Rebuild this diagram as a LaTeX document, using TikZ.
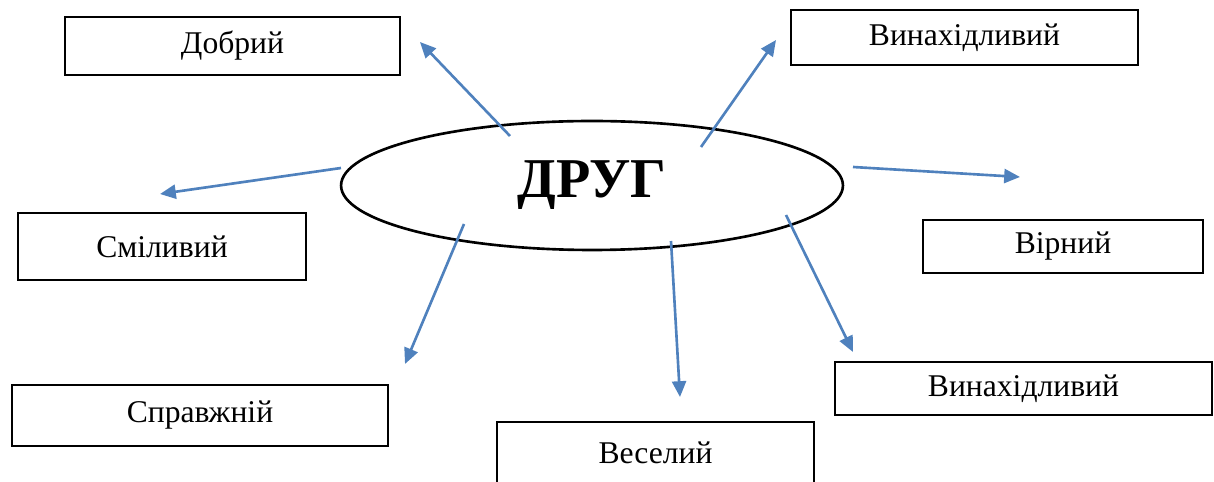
\documentclass[tikz,border=0pt]{standalone}
\usepackage{fontspec}
\setmainfont{Liberation Serif}
\usetikzlibrary{arrows.meta,shapes.geometric}

\definecolor{arrowblue}{RGB}{79,129,189}

\begin{document}
\begin{tikzpicture}[x=0.02cm,y=-0.02cm,
	box/.style={draw,line width=1.5pt,inner sep=0pt,font=\fontsize{18}{20}\selectfont},
	link/.style={draw=arrowblue,line width=1.5pt,-{Triangle[length=9pt,width=8pt]}}]
	\clip (0,0) rectangle (1214,482);
	\node[ellipse,draw,line width=1.5pt,minimum width=10.04cm,minimum height=2.58cm,inner sep=0pt,
		font=\fontsize{32}{36}\selectfont\bfseries](druh) at (592,185.5){ДРУГ};
	\node[box,minimum width=6.7cm,minimum height=1.16cm](dobryi) at (232.5,46){Добрий};
	\node[box,minimum width=6.94cm,minimum height=1.1cm](vynakh1) at (964.5,37.5){Винахідливий};
	\node[box,minimum width=5.76cm,minimum height=1.34cm](smilyvyi) at (162,246.5){Сміливий};
	\node[box,minimum width=5.6cm,minimum height=1.06cm](virnyi) at (1063,246.5){Вірний};
	\node[box,minimum width=7.52cm,minimum height=1.22cm](spravzhnii) at (200,415.5){Справжній};
	\node[box,minimum width=6.34cm,minimum height=1.24cm](veselyi) at (655.5,453){Веселий};
	\node[box,minimum width=7.54cm,minimum height=1.06cm](vynakh2) at (1023.5,388.5){Винахідливий};
	
	% start and end points of the arrows
	\coordinate (s1) at (510,136);  \coordinate (e1) at (420,42);
	\coordinate (s2) at (701,147);  \coordinate (e2) at (776,40);
	\coordinate (s3) at (341,168);  \coordinate (e3) at (160,194);
	\coordinate (s4) at (853,167);  \coordinate (e4) at (1020,177);
	\coordinate (s5) at (464,224);  \coordinate (e5) at (405,364);
	\coordinate (s6) at (671,241);  \coordinate (e6) at (680,397);
	\coordinate (s7) at (786,215);  \coordinate (e7) at (853,352);
	
	\path (s1) edge[link] (e1)
		  (s2) edge[link] (e2)
		  (s3) edge[link] (e3)
		  (s4) edge[link] (e4)
		  (s5) edge[link] (e5)
		  (s6) edge[link] (e6)
		  (s7) edge[link] (e7);
\end{tikzpicture}
\end{document}
